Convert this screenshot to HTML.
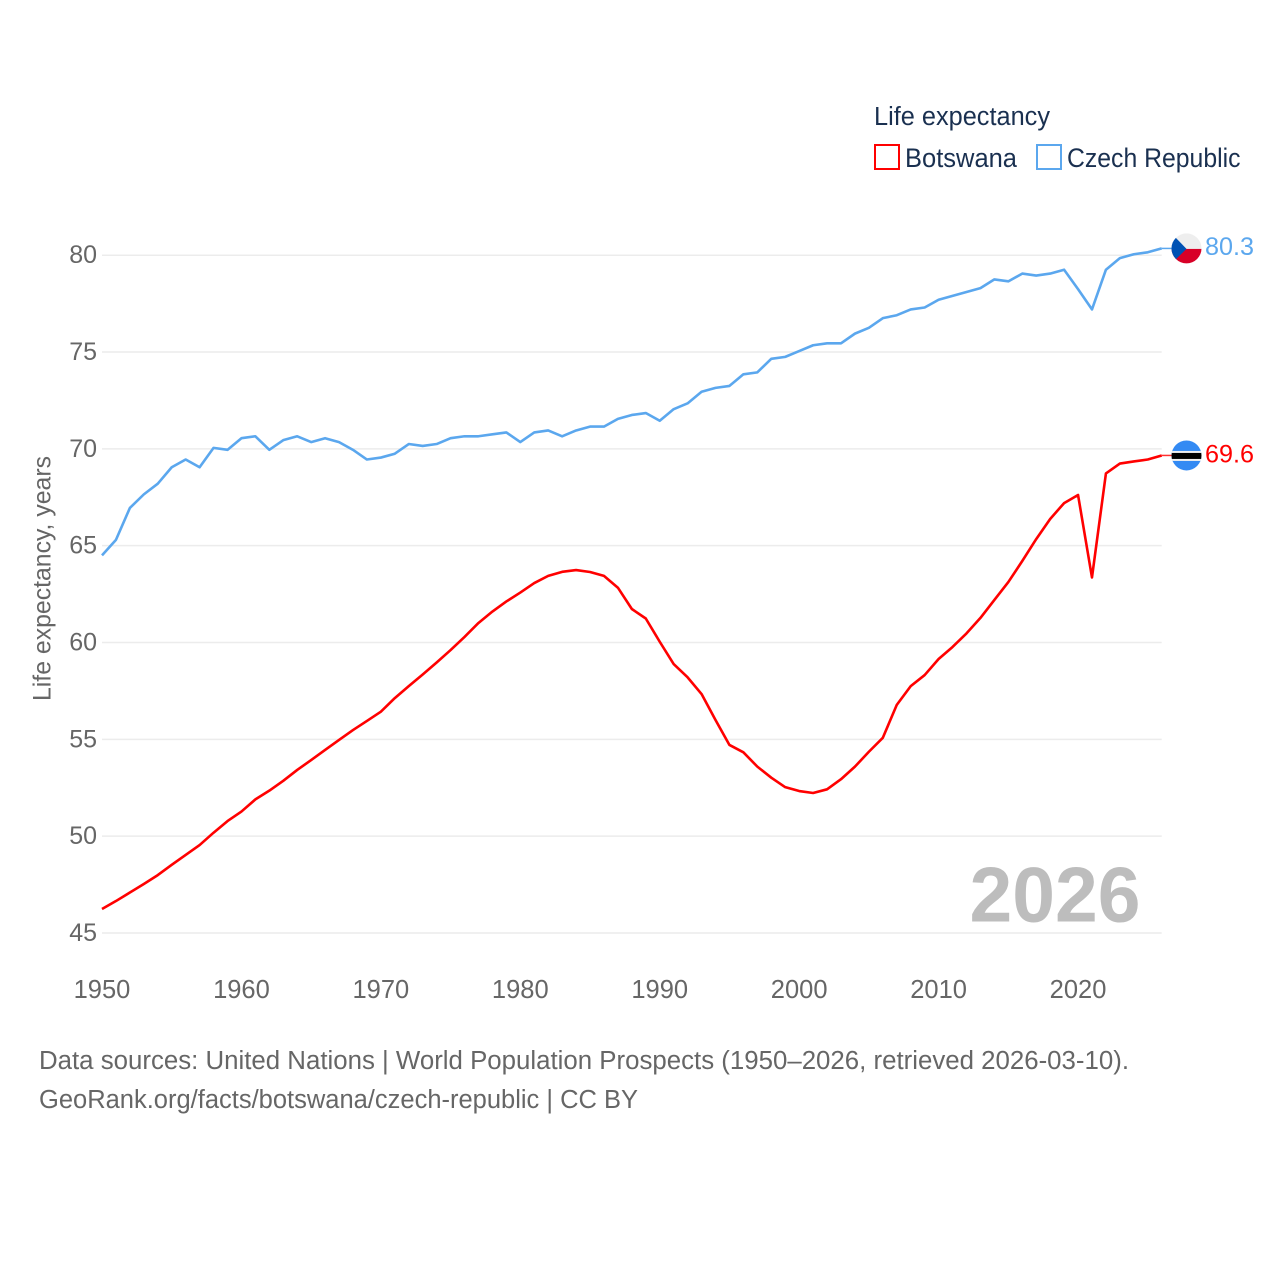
<!DOCTYPE html>
<html lang="en">
<head>
<meta charset="utf-8">
<title>Life expectancy: Botswana and Czech Republic</title>
<style>
html,body{margin:0;padding:0;background:#fff;}
svg{display:block;}
text{font-family:"Liberation Sans",sans-serif;}
</style>
</head>
<body>
<svg id="chart" xmlns="http://www.w3.org/2000/svg" width="1280" height="1280" viewBox="0 0 1280 1280">
  <rect x="0" y="0" width="1280" height="1280" fill="#ffffff"/>
  <g id="grid"></g>
  <g id="yticks"></g>
  <g id="xticks"></g>
  <text transform="translate(50.5,578.5) rotate(-90)" text-anchor="middle" font-size="25" fill="#666666" textLength="245" lengthAdjust="spacingAndGlyphs">Life expectancy, years</text>
  <text x="1055" y="921.5" text-anchor="middle" font-size="78" font-weight="700" fill="#bdbdbd" textLength="171" lengthAdjust="spacingAndGlyphs">2026</text>
  <g id="series"></g>
  <g>
    <text x="874" y="125" font-size="25.5" fill="#1a3050" textLength="176" lengthAdjust="spacingAndGlyphs">Life expectancy</text>
    <rect x="875" y="145" width="24" height="24" fill="#ffffff" stroke="#ff0000" stroke-width="2"/>
    <text x="905" y="167" font-size="27" fill="#1a3050" textLength="112" lengthAdjust="spacingAndGlyphs">Botswana</text>
    <rect x="1037" y="145" width="24" height="24" fill="#ffffff" stroke="#5ba7ee" stroke-width="2"/>
    <text x="1067" y="167" font-size="27" fill="#1a3050" textLength="173.5" lengthAdjust="spacingAndGlyphs">Czech Republic</text>
  </g>
  <g id="flags"></g>
  <text x="39" y="1069" font-size="25.5" fill="#666666" textLength="1090" lengthAdjust="spacingAndGlyphs">Data sources: United Nations | World Population Prospects (1950–2026, retrieved 2026-03-10).</text>
  <text x="39" y="1108" font-size="25.5" fill="#666666" textLength="599" lengthAdjust="spacingAndGlyphs">GeoRank.org/facts/botswana/czech-republic | CC BY</text>
  <defs>
    <clipPath id="clip-cz"><circle id="clip-cz-c" r="15"/></clipPath>
    <clipPath id="clip-bw"><circle id="clip-bw-c" r="15"/></clipPath>
  </defs>
</svg>
<script>
var startYear = 1950;
var endYear = 2026;
var yTickValues = [45, 50, 55, 60, 65, 70, 75, 80];
var xTickLabels = [1950, 1960, 1970, 1980, 1990, 2000, 2010, 2020];
var botswanaValues = [
46.24,46.65,47.09,47.53,47.99,48.52,49.03,49.54,50.18,50.78,
51.27,51.90,52.35,52.86,53.42,53.93,54.45,54.97,55.48,55.95,
56.43,57.13,57.75,58.35,58.97,59.61,60.29,61.01,61.60,62.12,
62.58,63.07,63.44,63.65,63.74,63.64,63.44,62.83,61.73,61.24,
60.04,58.89,58.20,57.34,56.00,54.71,54.33,53.59,53.02,52.53,
52.33,52.23,52.42,52.94,53.59,54.36,55.08,56.78,57.75,58.32,
59.15,59.77,60.47,61.27,62.20,63.12,64.21,65.34,66.38,67.20,
67.62,63.36,68.73,69.24,69.35,69.45,69.66];
var czechValues = [
64.50,65.30,66.95,67.65,68.20,69.05,69.45,69.05,70.05,69.95,
70.55,70.65,69.95,70.45,70.65,70.35,70.55,70.35,69.95,69.45,
69.55,69.75,70.25,70.15,70.25,70.55,70.65,70.65,70.75,70.85,
70.35,70.85,70.95,70.65,70.95,71.15,71.15,71.55,71.75,71.85,
71.45,72.05,72.35,72.95,73.15,73.25,73.85,73.95,74.65,74.75,
75.05,75.35,75.45,75.45,75.95,76.25,76.75,76.90,77.20,77.30,
77.70,77.90,78.10,78.30,78.75,78.65,79.05,78.95,79.05,79.25,
78.25,77.20,79.25,79.85,80.05,80.15,80.35];
var botswanaLabel = "69.6";
var czechLabel = "80.3";

var SVG_NS = "http://www.w3.org/2000/svg";
function xScale(year) { return 102 + (year - startYear) * (1161.7 - 102) / (endYear - startYear); }
function yScale(value) { return 933 - (value - 45) * (933 - 255.2) / 35; }
function make(tag, attrs, parent) {
  var el = document.createElementNS(SVG_NS, tag);
  for (var k in attrs) { el.setAttribute(k, attrs[k]); }
  parent.appendChild(el);
  return el;
}
var grid = document.getElementById("grid");
var yticks = document.getElementById("yticks");
var xticks = document.getElementById("xticks");
var series = document.getElementById("series");
var flags = document.getElementById("flags");

yTickValues.forEach(function (v) {
  var line = make("line", {x1: 102, x2: 1161.7, y1: yScale(v), y2: yScale(v), stroke: "#ececec", "stroke-width": 1.5}, grid);
  
  
  var t = make("text", {x: 97, y: yScale(v) + 8, "text-anchor": "end", "font-size": 25, fill: "#666666"}, yticks);
  t.textContent = v;
  
  
});
xTickLabels.forEach(function (y) {
  var t = make("text", {x: xScale(y), y: 998, "text-anchor": "middle", "font-size": 25.5, fill: "#666666"}, xticks);
  t.textContent = y;
  
  
});
function points(values) {
  return values.map(function (v, i) {
    return xScale(startYear + i).toFixed(2) + "," + yScale(v).toFixed(2);
  }).join(" ");
}
var botswanaLine = make("polyline", {points: points(botswanaValues), fill: "none", stroke: "#ff0000", "stroke-width": 2.6, "stroke-linejoin": "round"}, series);


var czechLine = make("polyline", {points: points(czechValues), fill: "none", stroke: "#5ba7ee", "stroke-width": 2.6, "stroke-linejoin": "round"}, series);



var lastX = xScale(endYear);
var flagX = lastX + 24.8;
var czY = yScale(czechValues[czechValues.length - 1]);
var bwY = yScale(botswanaValues[botswanaValues.length - 1]);

var czConn = make("line", {x1: lastX, x2: flagX - 14, y1: czY, y2: czY, stroke: "#5ba7ee", "stroke-width": 1.5}, flags);


var bwConn = make("line", {x1: lastX, x2: flagX - 14, y1: bwY, y2: bwY, stroke: "#ff3030", "stroke-width": 1.5}, flags);



document.getElementById("clip-cz-c").setAttribute("cx", flagX);
document.getElementById("clip-cz-c").setAttribute("cy", czY);
document.getElementById("clip-bw-c").setAttribute("cx", flagX);
document.getElementById("clip-bw-c").setAttribute("cy", bwY);

var cz = make("g", {"clip-path": "url(#clip-cz)"}, flags);


make("rect", {x: flagX - 15, y: czY - 15, width: 30, height: 15.5, fill: "#eeeeee"}, cz);
make("rect", {x: flagX - 15, y: czY + 0.5, width: 30, height: 15, fill: "#d80027"}, cz);
make("polygon", {points: (flagX - 15) + "," + (czY - 15) + " " + flagX + "," + (czY + 0.5) + " " + (flagX - 15) + "," + (czY + 15), fill: "#0052b4"}, cz);

var bw = make("g", {"clip-path": "url(#clip-bw)"}, flags);


make("rect", {x: flagX - 15, y: bwY - 15, width: 30, height: 31, fill: "#338af3"}, bw);
make("rect", {x: flagX - 15, y: bwY - 4.5, width: 30, height: 10, fill: "#f0f0f0"}, bw);
make("rect", {x: flagX - 15, y: bwY - 2.5, width: 30, height: 6, fill: "#000000"}, bw);

var czText = make("text", {x: 1205, y: czY + 6.5, "font-size": 25, fill: "#5ba7ee", textLength: 49, lengthAdjust: "spacingAndGlyphs"}, flags);
czText.textContent = czechLabel;


var bwText = make("text", {x: 1205, y: bwY + 7, "font-size": 25, fill: "#ff0000", textLength: 49, lengthAdjust: "spacingAndGlyphs"}, flags);
bwText.textContent = botswanaLabel;


</script>
</body>
</html>
